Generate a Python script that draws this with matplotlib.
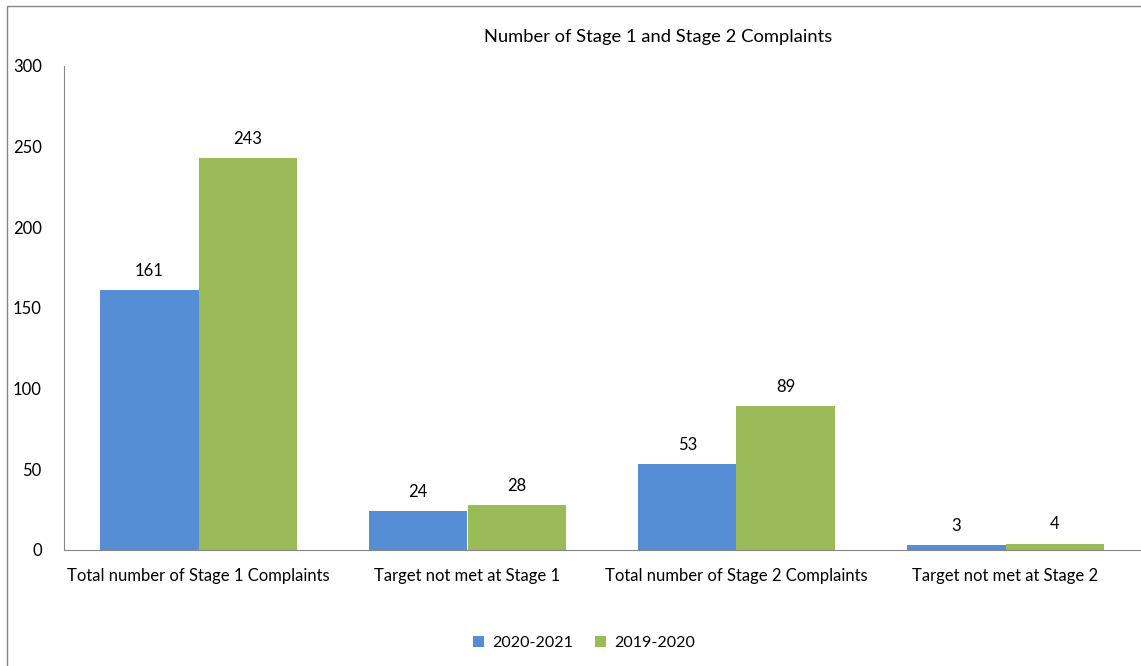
import matplotlib.pyplot as plt
import numpy as np

plt.rcParams['font.family'] = ['Lato', 'DejaVu Sans']

categories = ["Total number of Stage 1 Complaints", "Target not met at Stage 1",
              "Total number of Stage 2 Complaints", "Target not met at Stage 2"]
series_names = ["2020-2021", "2019-2020"]
values_2021 = [161, 24, 53, 3]
values_2020 = [243, 28, 89, 4]
colors = ["#558ED5", "#9BBB59"]

fig = plt.figure(figsize=(11.41, 6.66), dpi=100)
ax = fig.add_axes([64 / 1141, 1 - 550 / 666, (1140 - 64) / 1141, (550 - 66) / 666])

x = np.arange(len(categories))
w = 0.366
b1 = ax.bar(x - w / 2, values_2021, w, color=colors[0], label=series_names[0])
b2 = ax.bar(x + w / 2, values_2020, w, color=colors[1], label=series_names[1])

for bars in (b1, b2):
    for r in bars:
        ax.text(r.get_x() + r.get_width() / 2, r.get_height() + 7, str(int(r.get_height())),
                ha='center', va='bottom', fontsize=12, color='#000000')

ax.set_xlim(-0.5, 3.5)
ax.set_ylim(0, 300)
ax.set_yticks(range(0, 301, 50))
ax.set_xticks(x)
ax.set_xticklabels(categories)
ax.tick_params(axis='both', length=0, labelsize=12, colors='#000000')
ax.tick_params(axis='x', pad=13)
ax.tick_params(axis='y', pad=16)
for s in ['top', 'right']:
    ax.spines[s].set_visible(False)
ax.spines['left'].set_color('#868686')
ax.spines['bottom'].set_color('#868686')

fig.text(658 / 1141, 1 - 37 / 666, "Number of Stage 1 and Stage 2 Complaints",
         ha='center', va='center', fontsize=13.2)

fig.legend(loc='center', bbox_to_anchor=(584 / 1141, 1 - 643 / 666), ncol=2, frameon=False,
           fontsize=11.5, handlelength=0.7, handleheight=0.7, columnspacing=1.4, handletextpad=0.5)

# chart area border
fig.patches.append(plt.Rectangle((7 / 1141, -0.01), 1.02, 1 - 6 / 666 + 0.01,
                                 transform=fig.transFigure, fill=False,
                                 edgecolor='#868686', linewidth=1))

fig.savefig("out.png", dpi=100)
